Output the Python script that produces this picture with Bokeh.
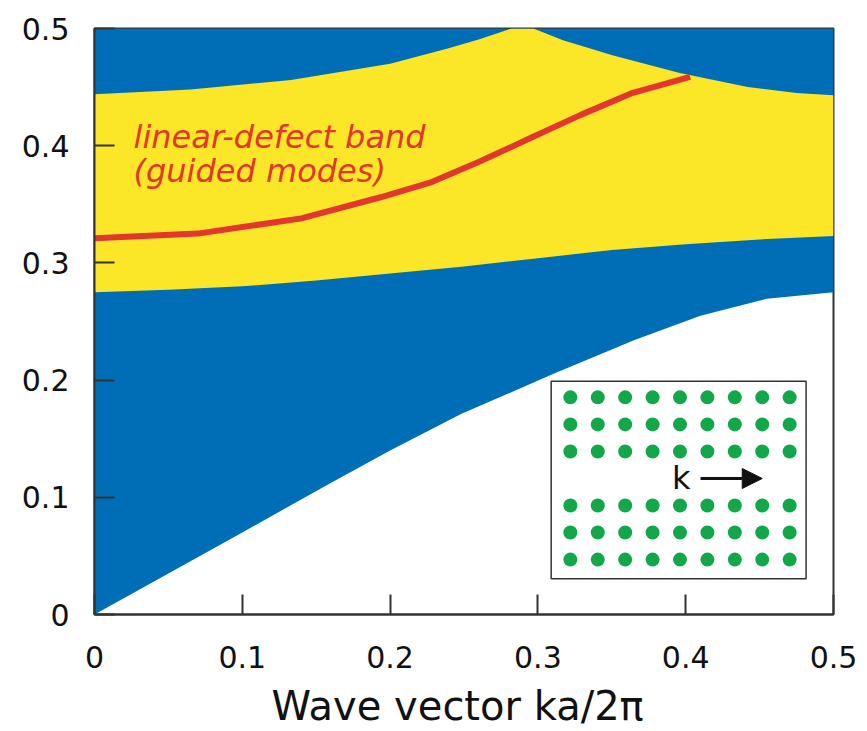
from bokeh.plotting import figure
from bokeh.models import Range1d, Arrow, NormalHead, Label
from bokeh.core.properties import value
from bokeh.embed import file_html
from bokeh.resources import INLINE

# ---- data ----
k_light = [0, 0.1, 0.158, 0.2, 0.248, 0.309, 0.365, 0.41, 0.455, 0.5]
w_light = [0, 0.070, 0.111, 0.140, 0.171, 0.2045, 0.234, 0.255, 0.2695, 0.275]

k_gap_low = [0, 0.05, 0.1, 0.15, 0.2, 0.25, 0.3, 0.35, 0.4, 0.45, 0.5]
w_gap_low = [0.275, 0.277, 0.280, 0.285, 0.291, 0.297, 0.304, 0.311, 0.316, 0.320, 0.323]

k_gap_up = [0, 0.065, 0.133, 0.2, 0.239, 0.261, 0.282, 0.297, 0.317, 0.351, 0.396, 0.442, 0.475, 0.5]
w_gap_up = [0.444, 0.448, 0.456, 0.470, 0.483, 0.491, 0.500, 0.500, 0.490, 0.477, 0.462, 0.450, 0.445, 0.443]

k_defect = [0, 0.07, 0.14, 0.1935, 0.227, 0.261, 0.295, 0.329, 0.363, 0.403]
w_defect = [0.321, 0.325, 0.338, 0.356, 0.3684, 0.3867, 0.4065, 0.4263, 0.4446, 0.4587]

x_ticks = [0, 0.1, 0.2, 0.3, 0.4, 0.5]
x_tick_labels = ["0", "0.1", "0.2", "0.3", "0.4", "0.5"]
y_ticks = [0, 0.1, 0.2, 0.3, 0.4, 0.5]
y_tick_labels = ["0", "0.1", "0.2", "0.3", "0.4", "0.5"]

# inset lattice (row 3 removed = linear defect)
lattice_cols = list(range(9))
lattice_rows = [0, 1, 2, 4, 5, 6]

BLUE = "#006EB6"
YELLOW = "#FBE627"
RED = "#E2362F"
GREEN = "#12A84A"
DARK = "#333333"
FONT = "DejaVu Sans"

p = figure(width=858, height=731,
           x_range=Range1d(0, 0.5), y_range=Range1d(0, 0.5),
           output_backend="svg", toolbar_location=None,
           min_border_left=94, min_border_right=25,
           min_border_top=28, min_border_bottom=113)
p.grid.visible = False
p.outline_line_color = DARK
p.outline_line_width = 2
p.background_fill_color = "white"
p.border_fill_color = "white"

# blue region above light line
p.varea(x=k_light, y1=w_light, y2=0.5, fill_color=BLUE)
# yellow gap region
p.patch(x=k_gap_low + k_gap_up[::-1], y=w_gap_low + w_gap_up[::-1],
        fill_color=YELLOW, line_color=None)
# defect band
p.line(x=k_defect, y=w_defect, line_color=RED, line_width=6, line_join="round")

p.add_layout(Label(x=0.0264, y=0.4076, text="linear-defect band",
                   text_font=FONT, text_font_style="italic", text_font_size="32px",
                   text_color=RED, text_baseline="alphabetic"))
p.add_layout(Label(x=0.0264, y=0.3786, text="(guided modes)",
                   text_font=FONT, text_font_style="italic", text_font_size="32px",
                   text_color=RED, text_baseline="alphabetic"))

# axes
for ax, ticks, labels in ((p.xaxis, x_ticks, x_tick_labels), (p.yaxis, y_ticks, y_tick_labels)):
    ax.ticker = ticks
    ax.major_label_overrides = {t: l for t, l in zip(ticks, labels)}
    ax.major_tick_in = 20
    ax.major_tick_out = 0
    ax.minor_tick_line_color = None
    ax.major_tick_line_color = DARK
    ax.major_tick_line_width = 2
    ax.axis_line_color = DARK
    ax.axis_line_width = 2
    ax.major_label_text_font = FONT
    ax.major_label_text_font_size = "30px"
    ax.major_label_text_color = "#111111"
p.yaxis.major_label_standoff = 25
p.xaxis.major_label_standoff = 31
p.xaxis.axis_label = "Wave vector  ka/2\u03c0"
p.xaxis.axis_label_text_font = FONT
p.xaxis.axis_label_text_font_size = "40px"
p.xaxis.axis_label_text_font_style = "normal"
p.xaxis.axis_label_text_color = "#111111"
p.xaxis.axis_label_standoff = 12

# inset in lattice units
p.extra_x_ranges = {"lat": Range1d(-17.36, 9.60)}
p.extra_y_ranges = {"lat": Range1d(-2.03, 19.64)}
p.quad(left=-0.7, right=8.6, bottom=-0.71, top=6.6, fill_color="white",
       line_color=DARK, line_width=1.5, x_range_name="lat", y_range_name="lat")
xs = [c for r in lattice_rows for c in lattice_cols]
ys = [r for r in lattice_rows for c in lattice_cols]
p.scatter(x=xs, y=ys, size=14, fill_color=GREEN, line_color=None,
          x_range_name="lat", y_range_name="lat")
p.text(x=[4.05], y=[3.0], text=["k"], text_align="center", text_baseline="middle",
       text_font=value(FONT), text_font_size="32px", text_color="#111111",
       x_range_name="lat", y_range_name="lat")
p.add_layout(Arrow(x_start=4.75, y_start=3.0, x_end=7.0, y_end=3.0,
                   line_width=3, line_color="#111111",
                   end=NormalHead(size=20, fill_color="#111111", line_color="#111111"),
                   x_range_name="lat", y_range_name="lat"))

open("out.html", "w").write(file_html(p, INLINE))
